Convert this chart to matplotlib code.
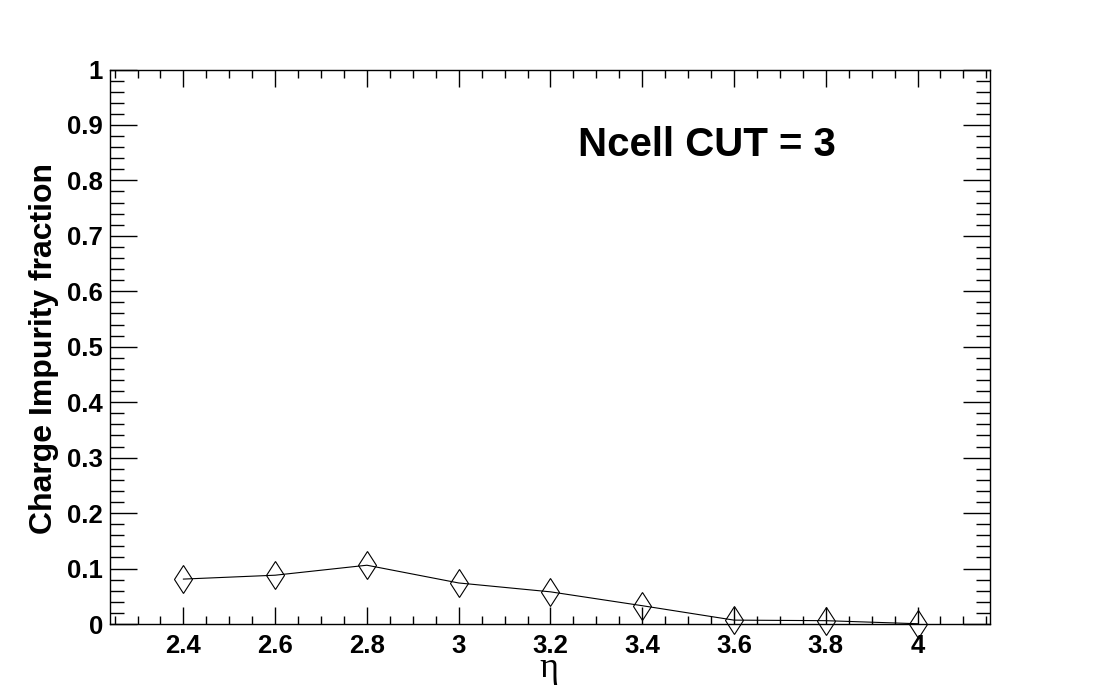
import numpy as np
import matplotlib
matplotlib.use('Agg')
from matplotlib import pyplot as plt
from matplotlib.ticker import MultipleLocator, FuncFormatter

# charge impurity fraction vs eta
eta = [2.4, 2.6, 2.8, 3.0, 3.2, 3.4, 3.6, 3.8, 4.0]
impurity = [0.081, 0.088, 0.106, 0.074, 0.058, 0.033, 0.007, 0.006, 0.0005]

x_range = (2.24, 4.158)
y_range = (0.0, 1.0)
cut_label = 'Ncell CUT = 3'
x_title = '\u03b7'
y_title = 'Charge Impurity fraction'

plt.rcParams['font.family'] = ['Liberation Sans', 'DejaVu Sans']

fig = plt.figure(figsize=(11.01, 6.94), dpi=100)
ax = fig.add_axes([110 / 1101, 70 / 694, 880 / 1101, 554.5 / 694])

ax.plot(eta, impurity, color='black', lw=0.8, marker='d', ms=14.5,
        mfc='none', mec='black', mew=0.8, clip_on=False, zorder=3)

ax.set_xlim(*x_range)
ax.set_ylim(*y_range)

ax.xaxis.set_major_locator(MultipleLocator(0.2))
ax.xaxis.set_minor_locator(MultipleLocator(0.05))
ax.yaxis.set_major_locator(MultipleLocator(0.1))
ax.yaxis.set_minor_locator(MultipleLocator(0.02))
fmt = FuncFormatter(lambda v, p: '%g' % round(v, 3))
ax.xaxis.set_major_formatter(fmt)
ax.yaxis.set_major_formatter(fmt)

for s in ax.spines.values():
    s.set_linewidth(1.0)

ax.tick_params(axis='both', which='both', direction='in', top=True, right=True,
               width=1.0, colors='black')
ax.tick_params(axis='x', which='major', length=12.2, pad=7)
ax.tick_params(axis='x', which='minor', length=5.8)
ax.tick_params(axis='y', which='major', length=19.4, pad=5)
ax.tick_params(axis='y', which='minor', length=9.8)
for lab in ax.get_xticklabels() + ax.get_yticklabels():
    lab.set_fontsize(18.5)
    lab.set_fontweight('bold')

ax.text(578 / 1101, 1 - 145 / 694, cut_label, transform=fig.transFigure,
        fontsize=29, fontweight='bold', ha='left', va='center')

# eta sits just under the 3.2 label
fig.text(549 / 1101, 1 - 677 / 694, x_title, fontsize=26, ha='center', va='baseline',
         family=['Liberation Serif', 'DejaVu Serif'])
fig.text(44 / 1101, 1 - 348 / 694, y_title, fontsize=23, fontweight='bold',
         rotation=90, ha='center', va='center')

fig.savefig('out.png', dpi=100)
